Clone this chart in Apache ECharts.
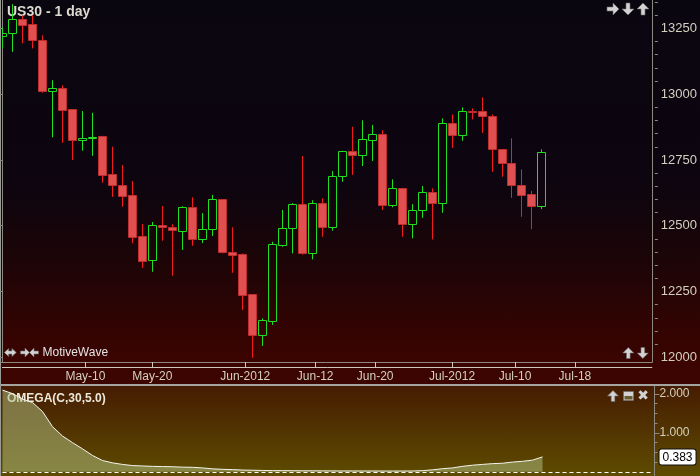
<!DOCTYPE html>
<html><head><meta charset="utf-8">
<script src="https://cdn.jsdelivr.net/npm/echarts@6/dist/echarts.min.js"></script>
<style>
html,body{margin:0;padding:0;background:#000;}
#c{width:700px;height:476px;background:linear-gradient(to bottom,#0a0610 0px,#0d0510 180px,#1a0508 253px,#2c0404 308px,#3c0400 362px,#3c0500 384px,#a4a4a0 384px,#a4a4a0 386px,#461c02 386px,#5e4c00 476px);}
</style></head><body><div id="c"></div>
<script>
// trading days (last 11 are empty future slots on the axis)
const dates = ['2012-04-30','2012-05-01','2012-05-02','2012-05-03','2012-05-04','2012-05-07','2012-05-08','2012-05-09','2012-05-10','2012-05-11',
'2012-05-14','2012-05-15','2012-05-16','2012-05-17','2012-05-18','2012-05-21','2012-05-22','2012-05-23','2012-05-24','2012-05-25',
'2012-05-28','2012-05-29','2012-05-30','2012-05-31','2012-06-01','2012-06-04','2012-06-05','2012-06-06','2012-06-07','2012-06-08',
'2012-06-11','2012-06-12','2012-06-13','2012-06-14','2012-06-15','2012-06-18','2012-06-19','2012-06-20','2012-06-21','2012-06-22',
'2012-06-25','2012-06-26','2012-06-27','2012-06-28','2012-06-29','2012-07-02','2012-07-03','2012-07-04','2012-07-05','2012-07-06',
'2012-07-09','2012-07-10','2012-07-11','2012-07-12','2012-07-13',
'2012-07-16','2012-07-17','2012-07-18','2012-07-19','2012-07-20','2012-07-23','2012-07-24','2012-07-25','2012-07-26','2012-07-27','2012-07-30'];
const opens  = [13218,13231,13282,13263,13205,13009,13022,12940,12823,12830,12838,12693,12654,12613,12458,12366,12501,12494,12477,12570,12448,12486,12598,12399,12389,12237,12082,12135,12424,12490,12582,12395,12585,12494,12686,12783,12766,12823,12845,12576,12642,12505,12556,12627,12585,12889,12842,12936,12936,12917,12790,12737,12654,12617,12572];
const closes = [13231,13282,13261,13203,13009,13022,12937,12823,12832,12837,12690,12652,12610,12456,12363,12501,12494,12480,12570,12448,12486,12598,12398,12386,12234,12082,12138,12427,12490,12582,12395,12585,12494,12689,12783,12766,12826,12845,12576,12642,12505,12556,12627,12585,12889,12842,12936,12929,12914,12790,12737,12652,12614,12572,12779];
const lows   = [13174,13161,13193,13174,13005,12836,12815,12750,12785,12766,12663,12610,12572,12433,12340,12325,12443,12310,12408,12424,12434,12461,12395,12321,12180,11998,12043,12123,12420,12395,12390,12372,12458,12481,12667,12693,12727,12746,12560,12570,12458,12452,12530,12448,12549,12796,12823,12904,12853,12705,12686,12606,12534,12487,12563];
const highs  = [13254,13342,13300,13300,13224,13053,13034,12942,12936,12929,12842,12800,12731,12670,12506,12514,12575,12506,12574,12608,12548,12617,12601,12494,12395,12239,12148,12439,12560,12586,12765,12597,12604,12708,12785,12876,12901,12883,12863,12676,12644,12582,12651,12642,12908,12923,12950,12946,12988,12923,12792,12832,12714,12632,12790];
const omega  = [2.10,2.01,1.87,1.78,1.55,1.16,0.92,0.75,0.59,0.42,
0.29,0.23,0.19,0.16,0.15,0.14,0.135,0.13,0.12,0.115,
0.10,0.076,0.064,0.056,0.045,0.04,0.035,0.03,0.03,0.028,
0.026,0.025,0.024,0.023,0.022,0.022,0.021,0.021,0.02,0.02,
0.02,0.021,0.03,0.05,0.08,0.10,0.14,0.17,0.19,0.21,
0.22,0.25,0.27,0.30,0.383];
const xTickPos    = [8.3,15.0,24.3,31.3,37.3,45.0,51.3,57.3];
const xTickLabels = ['May-10','May-20','Jun-2012','Jun-12','Jun-20','Jul-2012','Jul-10','Jul-18'];
const yTicks      = [12000,12250,12500,12750,13000,13250];
const omegaTicks  = [1,2];
const omegaMinorTicks = [0.25,0.5,0.75,1.25,1.5,1.75];
const omegaLast   = omega[omega.length-1];

const yMinor = [];
for (let v = 12000; v <= 13350; v += 50) if (v % 250 !== 0) yMinor.push(v);

const candleData = opens.map((o,i)=>[i, o, closes[i], lows[i], highs[i]]);
const axisGray = '#8c8a80';
const labelCol = '#d4d0c0';
const F = '"Liberation Sans", Arial, sans-serif';
const iconCol = '#d2d2d2';
const bullCol = '#1fe01f';

function renderCandle(params, api){
  const i = api.value(0), o = api.value(1), c = api.value(2), l = api.value(3), h = api.value(4);
  const pO = api.coord([i, o]), pC = api.coord([i, c]);
  const yL = api.coord([i, l])[1], yH = api.coord([i, h])[1];
  const cx = Math.floor(pO[0]) + 0.5;
  const half = api.size([1, 0])[0] * 0.4;
  let top = Math.round(Math.min(pO[1], pC[1]) - 0.5) + 0.5;
  let bot = Math.round(Math.max(pO[1], pC[1]) - 0.5) + 0.5;
  if (bot - top < 1) bot = top + 1;
  const bull = c >= o;
  const wick = bull ? bullCol : '#f21c1c';
  return {type:'group', children:[
    {type:'line', shape:{x1:cx, y1:yH, x2:cx, y2:top}, style:{stroke:wick, lineWidth:1}},
    {type:'line', shape:{x1:cx, y1:bot, x2:cx, y2:yL}, style:{stroke:wick, lineWidth:1}},
    {type:'rect', shape:{x:cx-half, y:top, width:half*2, height:bot-top},
     style: bull ? {fill:'none', stroke:bullCol, lineWidth:1} : {fill:'#e05050', stroke:'#bf2e2e', lineWidth:1}}
  ]};
}

// decorative toolbar arrow icon (dir: 'up','down','left','right'), centred on (cx,cy)
function arrowIcon(cx, cy, dir, s){
  s = s || 12;
  const h = s/2, sw = s/6;
  // base shape pointing up
  const base = [[0,-h],[h,0],[sw,0],[sw,h],[-sw,h],[-sw,0],[-h,0]];
  const rot = {up:(p)=>p, down:(p)=>[p[0],-p[1]], right:(p)=>[-p[1],p[0]], left:(p)=>[p[1],p[0]]}[dir];
  return {type:'polygon', silent:true, shape:{points: base.map(p=>{const q=rot(p); return [cx+q[0], cy+q[1]];})},
          style:{fill:iconCol, stroke:'#6a6a6a', lineWidth:0.6}};
}
function doubleArrow(cx, cy, w, hgt){
  const a = w/2, b = hgt/2, hl = hgt*0.55, sw = hgt/5;
  const pts = [[-a,0],[-a+hl,-b],[-a+hl,-sw],[a-hl,-sw],[a-hl,-b],[a,0],[a-hl,b],[a-hl,sw],[-a+hl,sw],[-a+hl,b]];
  return {type:'polygon', silent:true, shape:{points: pts.map(p=>[cx+p[0], cy+p[1]])},
          style:{fill:iconCol, stroke:'#6a6a6a', lineWidth:0.6}};
}

const chart = echarts.init(document.getElementById('c'), null, {renderer:'canvas'});
chart.setOption({
  animation:false,
  backgroundColor:'transparent',
  grid:[
    {left:2.5, right:47.5, top:0, height:362},
    {left:2.5, right:47.5, top:386, height:90}
  ],
  xAxis:[
    {type:'category', gridIndex:0, data:dates, boundaryGap:false, show:false},
    {type:'value', gridIndex:0, min:0, max:dates.length-1, position:'bottom', offset:5,
     axisLine:{show:true, lineStyle:{color:'#cdc9ba', width:1}},
     axisTick:{show:true, inside:true, length:5, customValues:xTickPos, lineStyle:{color:'#cdc9ba'}},
     axisLabel:{show:true, customValues:xTickPos, margin:4, color:labelCol, fontSize:12, fontFamily:F,
       formatter:(v)=>{const k = xTickPos.findIndex(p=>Math.abs(p-v)<1e-6); return k>=0?xTickLabels[k]:'';}},
     splitLine:{show:false}},
    {type:'category', gridIndex:1, data:dates, boundaryGap:false, show:false}
  ],
  yAxis:[
    {type:'value', gridIndex:0, position:'right', min:11982, max:13358, offset:6,
     axisLine:{show:true, lineStyle:{color:axisGray}},
     axisTick:{show:true, inside:true, length:6, customValues:yTicks, lineStyle:{color:axisGray}},
     axisLabel:{show:true, customValues:yTicks, margin:3, color:labelCol, fontSize:13, fontFamily:F, formatter:(v)=>String(v)},
     splitLine:{show:false}},
    {type:'value', gridIndex:0, position:'right', min:11982, max:13358, offset:6,
     axisLine:{show:false},
     axisTick:{show:true, inside:true, length:3, customValues:yMinor, lineStyle:{color:axisGray}},
     axisLabel:{show:false}, splitLine:{show:false}},
    {type:'value', gridIndex:1, position:'right', min:-0.108, max:2.206, offset:2,
     axisLine:{show:true, lineStyle:{color:axisGray}},
     axisTick:{show:true, inside:false, length:5, customValues:omegaTicks, lineStyle:{color:axisGray}},
     axisLabel:{show:true, customValues:[...omegaTicks, omegaLast], margin:5, color:labelCol, fontSize:12, fontFamily:F,
       formatter:(v)=> Math.abs(v-omegaLast)<1e-9 ? '{tag|'+v.toFixed(3)+'}' : v.toFixed(3),
       rich:{tag:{backgroundColor:'#ffffff', color:'#000000', borderColor:'#111', borderWidth:1, borderRadius:2, padding:[2,3,1,3], fontSize:12, fontFamily:F}}},
     splitLine:{show:false}},
    {type:'value', gridIndex:1, position:'right', min:-0.108, max:2.206, offset:2,
     axisLine:{show:false},
     axisTick:{show:true, inside:false, length:3, customValues:omegaMinorTicks, lineStyle:{color:axisGray}},
     axisLabel:{show:false}, splitLine:{show:false}}
  ],
  series:[
    {type:'custom', xAxisIndex:0, yAxisIndex:0, data:candleData, renderItem:renderCandle,
     encode:{x:0, y:[1,2,3,4]}, clip:true},
    {type:'line', xAxisIndex:2, yAxisIndex:2, data:omega, symbol:'none', smooth:false,
     lineStyle:{color:'#f4f4ee', width:1},
     areaStyle:{color:'rgba(175,190,130,0.75)'},
     markLine:{silent:true, symbol:'none', label:{show:false},
       lineStyle:{color:'#ffffff', type:[4,3], width:1}, data:[{yAxis:0}]}}
  ],
  graphic:[
    {type:'line', shape:{x1:0.5,y1:0,x2:0.5,y2:476}, style:{stroke:'#9a9a96', lineWidth:1}, silent:true},
    {type:'line', shape:{x1:0,y1:362.5,x2:652.5,y2:362.5}, style:{stroke:axisGray, lineWidth:1}, silent:true},
    {type:'line', shape:{x1:652.5,y1:0,x2:652.5,y2:362.5}, style:{stroke:axisGray, lineWidth:1}, silent:true},
    {type:'text', x:7, y:12.5, style:{text:'US30 - 1 day', fill:'#dcdad0', font:'bold 14px '+F, textVerticalAlign:'middle'}, silent:true},
    arrowIcon(613, 9, 'right', 12),
    arrowIcon(628, 9, 'down', 12),
    arrowIcon(643, 9, 'up', 12),
    arrowIcon(628.3, 353, 'up', 11),
    arrowIcon(642.8, 353, 'down', 11),
    doubleArrow(10.3, 352.5, 12, 8),
    arrowIcon(25, 352.5, 'right', 9),
    arrowIcon(34, 352.5, 'left', 9),
    {type:'text', x:42.5, y:352.8, style:{text:'MotiveWave', fill:'#e4e4e4', font:'12px '+F, textVerticalAlign:'middle'}, silent:true},
    {type:'text', x:7, y:399, style:{text:'OMEGA(C,30,5.0)', fill:'#ece8da', font:'bold 12px '+F, textVerticalAlign:'middle'}, silent:true},
    arrowIcon(613, 396, 'up', 11),
    {type:'rect', shape:{x:623.5,y:391.5,width:10,height:9}, style:{fill:iconCol, stroke:'#6a6a6a', lineWidth:0.6}, silent:true},
    {type:'rect', shape:{x:624.5,y:396,width:8,height:3.5}, style:{fill:'#6a5a30'}, silent:true},
    {type:'text', x:643, y:396, style:{text:'✖', fill:iconCol, font:'bold 14px "DejaVu Sans", sans-serif', textAlign:'center', textVerticalAlign:'middle'}, silent:true}
  ]
});
</script></body></html>
